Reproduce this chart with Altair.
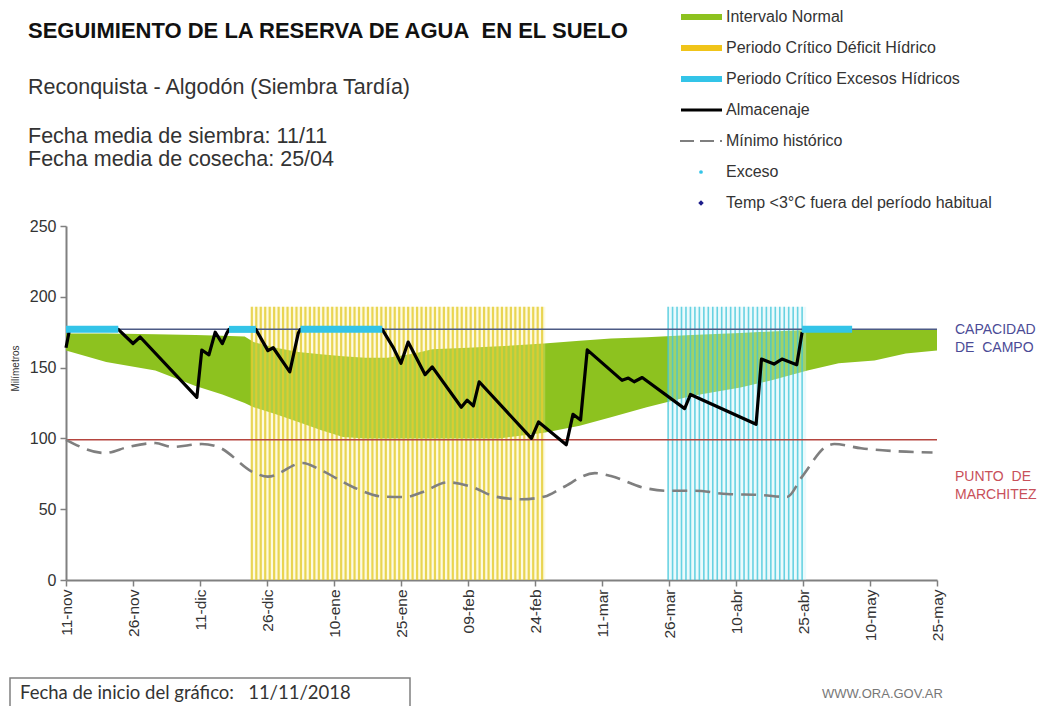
import altair as alt
import numpy as np
import pandas as pd

# ---------------- data (x = days since 11-nov-2018) ----------------
tick_days = [0, 15, 30, 45, 60, 75, 90, 105, 120, 135, 150, 165, 180, 195]
tick_labels = ["11-nov", "26-nov", "11-dic", "26-dic", "10-ene", "25-ene", "09-feb",
               "24-feb", "11-mar", "26-mar", "10-abr", "25-abr", "10-may", "25-may"]
y_ticks = [0, 50, 100, 150, 200, 250]

band_days = [0, 9, 20, 29, 35, 40, 42, 47, 52, 57, 62, 67, 72, 78, 82, 90, 97, 107,
             115, 122, 130, 140, 151, 158, 166, 173, 181, 188, 195]
band_high = [174, 174, 173.5, 173, 172.5, 172, 168, 164, 161, 159.5, 158, 157, 157, 160,
             163, 164, 165, 167, 169, 170.5, 171.5, 173, 174.5, 175.5, 176.5, 177, 177, 177, 177]
band_low = [162, 154, 148, 137, 131, 125, 122, 117, 111.5, 106, 101, 100, 100, 100, 100,
            100, 100, 104, 109, 115, 122, 130, 136, 141, 148, 153, 155, 160, 162]

alm_days = [0, 0.8, 11.7, 15, 16.6, 29.3, 30.4, 32, 33.4, 35, 36, 36.5, 42.5, 45.2, 46.4,
            50.1, 52, 52.5, 70.8, 73.2, 75, 76.6, 80.4, 82, 88.5, 89.8, 91.2, 92.5, 104.2,
            105.8, 112, 113.5, 115.2, 116.7, 124.5, 125.9, 127.2, 129, 138.5, 139.8, 144,
            154.5, 155.7, 158.5, 160.3, 163.6, 164.8]
alm_mm = [164, 177, 177, 167, 171.6, 129, 162.4, 159, 175, 167, 174.4, 177, 177, 162, 164,
          147, 174.4, 177, 177, 164.5, 153, 168, 145, 150.5, 122, 127, 123, 140, 100,
          111.6, 95.5, 117, 113, 162.5, 141, 142.6, 140, 143, 121, 131, 125,
          110, 156, 152.5, 156, 152, 175]

min_days = [0, 8.7, 14, 20, 23.7, 30.4, 34, 42.3, 45.2, 53, 57, 64.7, 70.7, 76, 79.7, 85.5,
            90.9, 96, 102, 107.2, 111, 118.4, 122, 129.6, 134.8, 140.8, 148, 155.8, 161.4,
            164.8, 170.6, 172, 178, 185.6, 194]
min_mm = [99, 89.7, 94, 96.7, 94, 96, 94, 75.5, 73, 82.6, 77.7, 65, 59, 58.6, 62, 69,
          65.7, 59, 57, 59, 65, 75.5, 73.4, 65, 63, 63, 60.7, 60, 58.6,
          73, 95, 96, 93, 91, 90]

exceso_ini = [0, 36.5, 52.5, 164.8]
exceso_fin = [11.7, 42.5, 70.8, 176]

capacidad_campo = 177
punto_marchitez = 99

deficit_ini, deficit_fin = 41.6, 107.3
excesos_ini, excesos_fin = 134.8, 165.7
periodo_tope = 193

legend_labels = ["Intervalo Normal", "Periodo Crítico Déficit Hídrico",
                 "Periodo Crítico Excesos Hídricos", "Almacenaje", "Mínimo histórico",
                 "Exceso", "Temp <3°C fuera del período habitual"]

# ---------------- styling ----------------
FONT = "Liberation Sans"
W, H = 871, 354
GREEN = "#8dc21f"
YELLOW_BG, YELLOW_ST = "#f8ee9a", "#e3cc2e"
BLUE_BG, BLUE_ST = "#c6f2f6", "#3cc4da"
CYAN = "#33c4e8"

xlab_expr = "[" + ",".join("'%s'" % s for s in tick_labels) + "][round(datum.value/15)]"
X_SCALE = alt.Scale(domain=[0, 195], nice=False, zero=False)
Y_SCALE = alt.Scale(domain=[0, 250], nice=False)
X_AXIS = alt.Axis(values=tick_days, labelExpr=xlab_expr, labelAngle=270, title=None,
                  grid=False, labelFontSize=15.5, labelPadding=3)
Y_AXIS = alt.Axis(values=y_ticks, grid=False, labelFontSize=16, title="Milímetros",
                  titleFontSize=10, titleFontWeight="normal", titleAngle=270,
                  titleX=-51, titleY=142, titleAlign="center", titleBaseline="middle",
                  labelPadding=4)


def X(f):
    return alt.X(f, type="quantitative", scale=X_SCALE, axis=X_AXIS)


def Y(f):
    return alt.Y(f, type="quantitative", scale=Y_SCALE, axis=Y_AXIS)


band_df = pd.DataFrame({"dia": band_days, "alto": band_high, "bajo": band_low})
alm_df = pd.DataFrame({"dia": alm_days, "mm": alm_mm})
min_df = pd.DataFrame({"dia": min_days, "mm": min_mm})
exc_df = pd.DataFrame({"ini": exceso_ini, "fin": exceso_fin,
                       "mm": [capacidad_campo] * len(exceso_ini)})
ref_df = pd.DataFrame({"mm": [capacidad_campo]})
mar_df = pd.DataFrame({"mm": [punto_marchitez]})


def period_layers(ini, fin, bg, st, bg_op, st_op, sw):
    rdf = pd.DataFrame({"ini": [ini], "fin": [fin], "top": [periodo_tope], "base": [0]})
    rect = alt.Chart(rdf).mark_rect(color=bg, opacity=bg_op).encode(
        x=X("ini"), x2="fin", y=Y("top"), y2="base")
    days = np.arange(ini, fin + 0.01, 1.0)
    sdf = pd.DataFrame({"dia": days, "top": periodo_tope, "base": 0})
    stripes = alt.Chart(sdf).mark_rule(color=st, opacity=st_op, strokeWidth=sw).encode(
        x=X("dia"), y=Y("top"), y2="base")
    return [rect, stripes]


green = alt.Chart(band_df).mark_area(color=GREEN, opacity=1).encode(
    x=X("dia"), y=Y("alto"), y2="bajo")

cap_line = alt.Chart(ref_df).mark_rule(color="#4d5a85", strokeWidth=1.5).encode(y=Y("mm"))
mar_line = alt.Chart(mar_df).mark_rule(color="#b5453f", strokeWidth=1.5).encode(y=Y("mm"))
exc_band = alt.Chart(exc_df).mark_rule(color=CYAN, strokeWidth=7).encode(
    x=X("ini"), x2="fin", y=Y("mm"))
min_line = alt.Chart(min_df).mark_line(color="#7f7f7f", strokeWidth=2.6, strokeDash=[15, 8],
                                       interpolate="monotone").encode(x=X("dia"), y=Y("mm"))
alm_line = alt.Chart(alm_df).mark_line(color="#000000", strokeWidth=3.2,
                                       strokeJoin="round").encode(x=X("dia"), y=Y("mm"))

ONE = pd.DataFrame({"k": [0]})


def txt(s, px, py, size, color="#333333", weight="normal", font=FONT, baseline="alphabetic"):
    return alt.Chart(ONE).mark_text(text=s, align="left", baseline=baseline, fontSize=size,
                                    font=font, fontWeight=weight, color=color).encode(
        x=alt.value(px), y=alt.value(py))


annots = [
    txt("SEGUIMIENTO DE LA RESERVA DE AGUA\u00a0 EN EL SUELO", -38, -188, 22, "#111111", "bold"),
    txt("Reconquista - Algodón (Siembra Tardía)", -38, -132, 21.5),
    txt("Fecha media de siembra: 11/11", -38, -83, 21.5),
    txt("Fecha media de cosecha: 25/04", -38, -60, 21.5),
    txt("CAPACIDAD", 889, 104, 14, "#4b4b96", baseline="middle"),
    txt("DE\u00a0 CAMPO", 889, 122, 14, "#4b4b96", baseline="middle"),
    txt("PUNTO\u00a0 DE", 889, 251, 14, "#c8505a", baseline="middle"),
    txt("MARCHITEZ", 889, 269, 14, "#c8505a", baseline="middle"),
    txt("WWW.ORA.GOV.AR", 756, 468, 13, "#777777", baseline="middle"),
]

box = alt.Chart(ONE).mark_rect(fill="white", stroke="#808080", strokeWidth=1.5).encode(
    x=alt.value(-56), x2=alt.value(344), y=alt.value(452), y2=alt.value(492))
box_txt = txt("Fecha de inicio del gráfico:\u00a0\u00a0 11/11/2018", -46, 467, 18.5,
              "#333333", font="Lato", baseline="middle")

# manual legend
LX0, LX1, LTX, LY0, LDY = 615, 656, 660, -209, 31
leg = []
bar_colors = [GREEN, "#f0c419", CYAN]
for i, c in enumerate(bar_colors):
    leg.append(alt.Chart(ONE).mark_rule(color=c, strokeWidth=6).encode(
        x=alt.value(LX0), x2=alt.value(LX1), y=alt.value(LY0 + i * LDY)))
leg.append(alt.Chart(ONE).mark_rule(color="black", strokeWidth=3).encode(
    x=alt.value(LX0), x2=alt.value(LX1), y=alt.value(LY0 + 3 * LDY)))
leg.append(alt.Chart(ONE).mark_rule(color="#7f7f7f", strokeWidth=2, strokeDash=[14, 6]).encode(
    x=alt.value(LX0 - 1), x2=alt.value(LX1), y=alt.value(LY0 + 4 * LDY)))
leg.append(alt.Chart(ONE).mark_point(shape="circle", filled=True, size=14, color=CYAN, opacity=1).encode(
    x=alt.value(LX0 + 20), y=alt.value(LY0 + 5 * LDY)))
leg.append(alt.Chart(ONE).mark_point(shape="diamond", filled=True, size=30, color="#1c1c8a", opacity=1).encode(
    x=alt.value(LX0 + 20), y=alt.value(LY0 + 6 * LDY)))
for i, lab in enumerate(legend_labels):
    leg.append(txt(lab, LTX, LY0 + i * LDY, 16, "#333333", baseline="middle"))

layers = ([green]
          + period_layers(deficit_ini, deficit_fin, YELLOW_BG, YELLOW_ST, 0.3, 0.8, 2.2)
          + period_layers(excesos_ini, excesos_fin, BLUE_BG, BLUE_ST, 0.35, 0.75, 1.6)
          + [cap_line, mar_line, min_line, alm_line, exc_band]
          + annots + [box, box_txt] + leg)

chart = alt.layer(*layers).properties(
    width=W, height=H,
    padding={"left": 58, "top": 218, "right": 101, "bottom": 126},
    autosize=alt.AutoSizeParams(type="none"),
).configure_view(stroke=None).configure_axis(
    labelFont=FONT, titleFont=FONT, labelColor="#333333", titleColor="#333333",
    domainColor="#808080", domainWidth=2, tickColor="#808080", tickWidth=1.5, tickSize=6,
)

chart.save("out.html", embed_options={"renderer": "svg", "actions": False})
